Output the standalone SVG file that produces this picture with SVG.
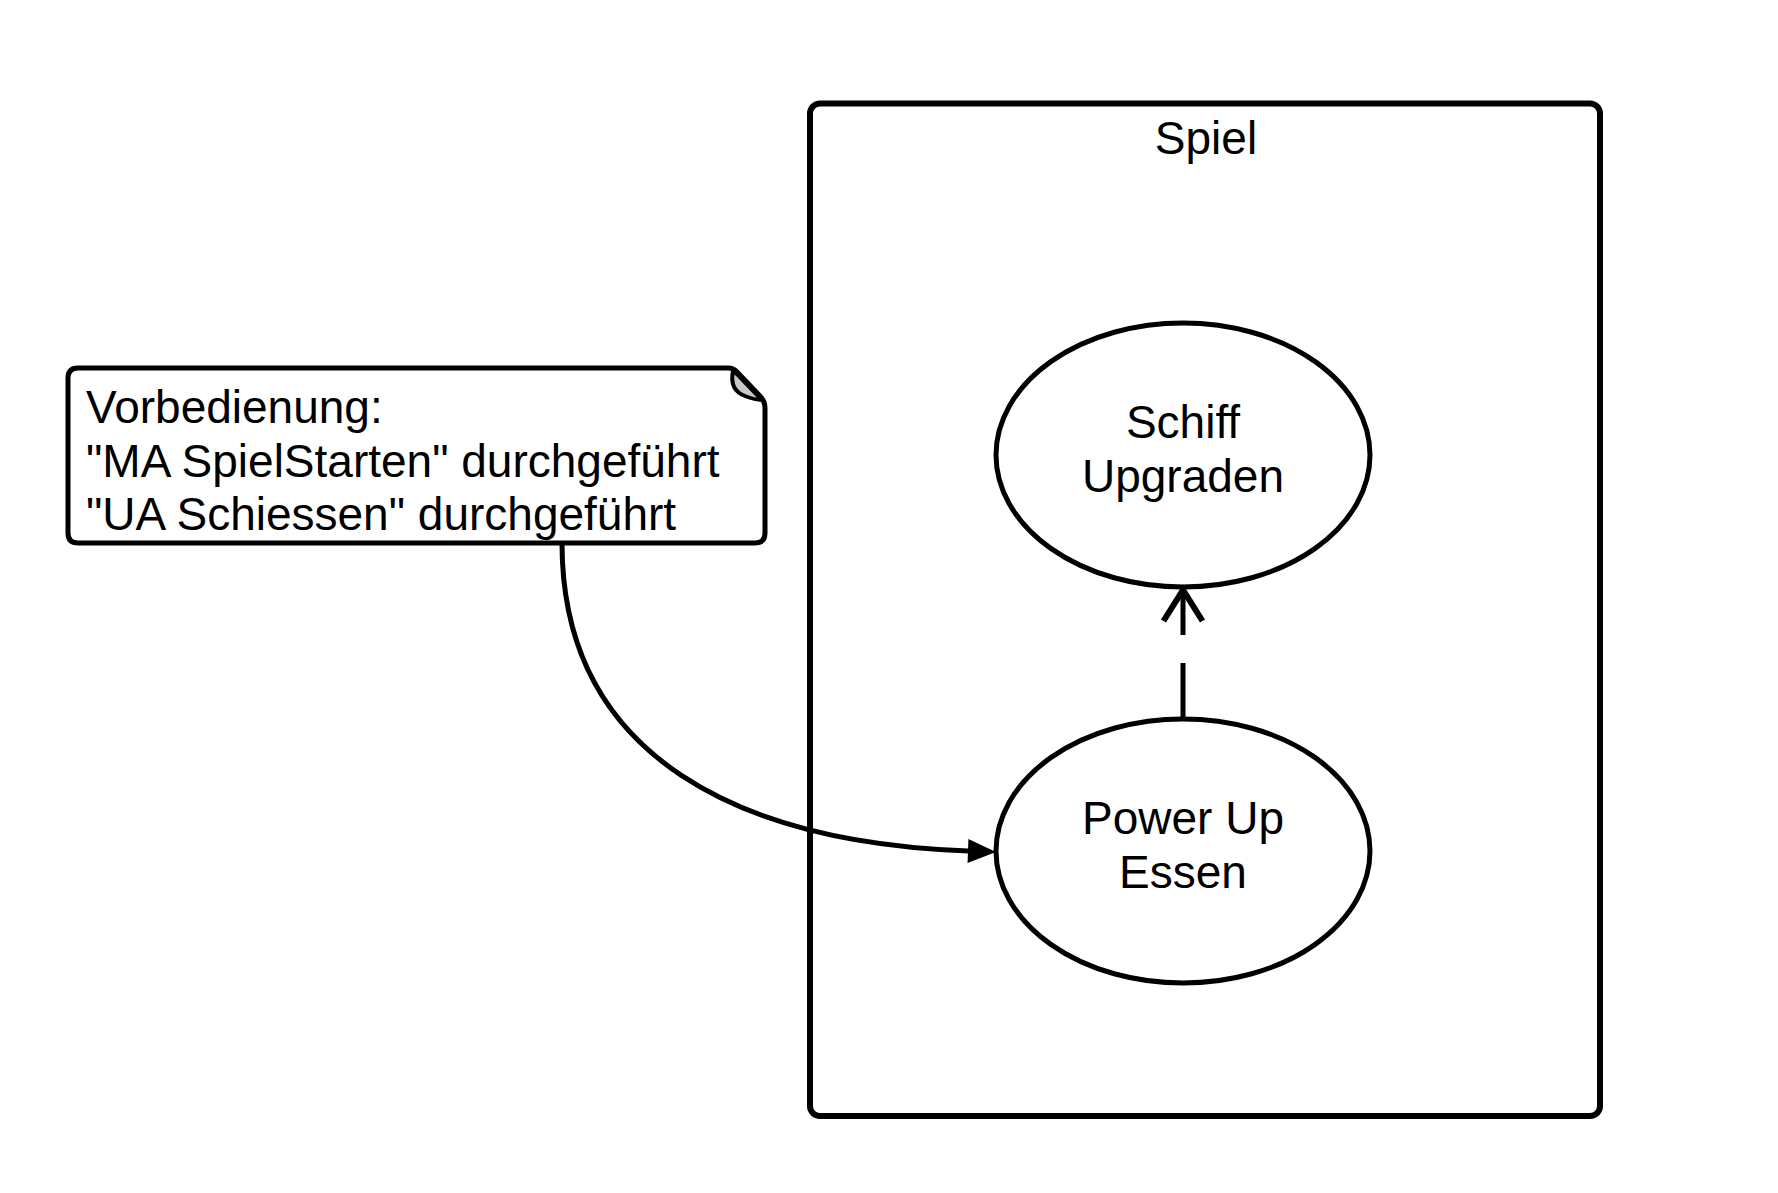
<svg xmlns="http://www.w3.org/2000/svg" width="1778" height="1193" viewBox="0 0 1778 1193">
  <style>
    .shape { fill: #ffffff; stroke: #000000; stroke-width: 5; }
    .label { font-family: "Liberation Sans", Arial, sans-serif; font-size: 46px; fill: #000000; }
    .center { text-anchor: middle; }
    .conn { fill: none; stroke: #000000; stroke-width: 5; }
  </style>
  <defs>
    <marker id="filled" viewBox="0 0 28 24" refX="0" refY="12" markerWidth="28" markerHeight="24" markerUnits="userSpaceOnUse" orient="auto" overflow="visible">
      <path d="M0,0 L28,12 L0,24 Z" fill="#000000"/>
    </marker>
    <marker id="open" viewBox="-34 -22 36 44" refX="0" refY="0" markerWidth="36" markerHeight="44" markerUnits="userSpaceOnUse" orient="auto" overflow="visible">
      <path d="M-31,-19.5 L0,0 L-31,19.5" fill="none" stroke="#000000" stroke-width="6"/>
    </marker>
  </defs>
  <rect x="0" y="0" width="1778" height="1193" fill="#ffffff"/>

  <g id="spiel">
    <rect x="810" y="103.5" width="790" height="1012.5" rx="10" ry="10" fill="#ffffff" stroke="#000000" stroke-width="6"/>
    <text class="label center" x="1206" y="154">Spiel</text>
  </g>

  <g id="note">
    <path class="shape" d="M78 368 H728 Q734 368 738 373 L760 396 Q765 401 765 408 V533 Q765 543 755 543 H78 Q68 543 68 533 V378 Q68 368 78 368 Z"/>
    <path d="M733 371 Q729 390 745 396 Q755 400 762 400 L738 375 Z" fill="#c8c8c8" stroke="#000000" stroke-width="4" stroke-linejoin="round"/>
    <text class="label" x="86" y="423">Vorbedienung:</text>
    <text class="label" x="86" y="477">"MA SpielStarten" durchgeführt</text>
    <text class="label" x="86" y="530">"UA Schiessen" durchgeführt</text>
  </g>

  <g id="schiff-upgraden">
    <ellipse class="shape" cx="1183" cy="455" rx="187" ry="132"/>
    <text class="label center" x="1183" y="438">Schiff</text>
    <text class="label center" x="1183" y="492">Upgraden</text>
  </g>

  <g id="power-up-essen">
    <ellipse class="shape" cx="1183" cy="851" rx="187" ry="132"/>
    <text class="label center" x="1183" y="834">Power Up</text>
    <text class="label center" x="1183" y="888">Essen</text>
  </g>

  <g id="connectors">
    <path class="conn" d="M562 543 C562 760 745 843 968 851" marker-end="url(#filled)"/>
    <path class="conn" d="M1183 719 L1183 590" stroke-width="6" stroke-dasharray="56 28" marker-end="url(#open)"/>
  </g>
</svg>
